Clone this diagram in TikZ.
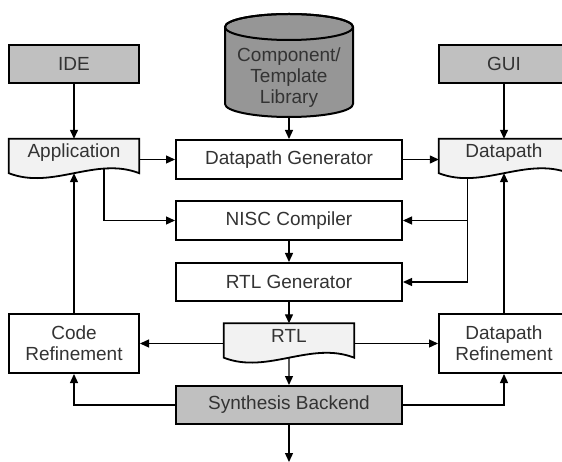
\documentclass[tikz,border=0pt]{standalone}
\usepackage{fontspec}
\setmainfont{Liberation Sans}
\usetikzlibrary{arrows.meta,calc,backgrounds}
\definecolor{txt}{HTML}{333333}
\definecolor{boxgray}{HTML}{C0C0C0}
\definecolor{cylgray}{HTML}{969696}
\definecolor{docfill}{HTML}{F2F2F2}
\newcommand{\docshape}[3]{%
  \path[docstyle] (#1.north west) -- (#1.north east) -- (#1.south east)
    .. controls ($(#1.south east)!1/3!(#1.south west)+(0,-17)$)
       and ($(#1.south east)!2/3!(#1.south west)+(0,17)$) ..
    coordinate[pos=#2] (#3) (#1.south west) -- cycle;}
\begin{document}
\begin{tikzpicture}[x=1pt,y=-1pt,
  every node/.style={font=\fontsize{19}{21}\selectfont, text=txt, align=center, inner sep=0pt},
  box/.style={draw=black, line width=2pt, fill=white, minimum width=226pt, minimum height=39pt},
  graybox/.style={box, fill=boxgray},
  sidebox/.style={box, minimum width=130pt},
  sidegray/.style={sidebox, fill=boxgray},
  docnode/.style={minimum width=130pt, minimum height=34pt, text height=14pt, text depth=10pt},
  docstyle/.style={draw=black, line width=1.8pt, fill=docfill},
  conn/.style={draw=black, line width=1.3pt, -{Triangle[length=9pt,width=8pt]}},
  plain/.style={draw=black, line width=1.3pt}]
\useasboundingbox (0,0) rectangle (562,462);
\clip (0,0) rectangle (562,462);

% nodes
\node[sidegray, minimum height=38pt] (ide) at (74,64) {IDE};
\node[sidegray, minimum height=38pt] (gui) at (504,64) {GUI};
\node[minimum width=128pt, minimum height=78pt] (lib) at (289,78) {Component/\\Template\\Library};
\node[box] (dpg) at (289,159.5) {Datapath Generator};
\node[box] (nisc) at (289,220.5) {NISC Compiler};
\node[box, minimum height=38pt] (rtlg) at (289,282) {RTL Generator};
\node[graybox, minimum height=38pt] (synth) at (289,405) {Synthesis Backend};
\node[sidebox, minimum height=59pt] (code) at (74,343.5) {Code\\Refinement};
\node[sidebox, minimum height=59pt] (dpr) at (504,343.5) {Datapath\\Refinement};
\node[docnode] (app) at (74,156) {Application};
\node[docnode] (dp) at (504,156) {Datapath};
\node[docnode] (rtl) at (289,340.5) {RTL};
\coordinate (out) at (289,462);

\begin{scope}[on background layer]
  % cylinder
  \path[draw=black, line width=2pt, fill=cylgray]
    (225,27) -- (225,104) arc[start angle=180, end angle=360, x radius=64pt, y radius=13pt] -- (353,27)
    arc[start angle=0, end angle=180, x radius=64pt, y radius=13pt] -- cycle;
  \draw[black, line width=2pt] (289,27) ellipse[x radius=64pt, y radius=13pt];
  % documents
  \docshape{app}{0.27}{appw}
  \docshape{dp}{0.78}{dpw}
  \docshape{rtl}{0.5}{rtlw}
\end{scope}

% connectors
\draw[conn] (ide.south) -- (app.north);
\draw[conn] (lib.south) -- (dpg.north);
\draw[conn] (gui.south) -- (dp.north);
\draw[conn] (app.east |- dpg.west) -- (dpg.west);
\draw[conn] (dpg.east) -- (dp.west |- dpg.east);
\draw[conn] (appw) |- (nisc.west);
\draw[conn] (dpw) |- (rtlg.east);
\draw[conn] (dpw |- nisc.east) -- (nisc.east);
\draw[conn] (nisc.south) -- (rtlg.north);
\draw[conn] (rtlg.south) -- (rtl.north);
\draw[conn] (rtl.west |- code.east) -- (code.east);
\draw[conn] (rtl.east |- dpr.west) -- (dpr.west);
\draw[conn] (rtlw) -- (synth.north);
\draw[conn] (synth.west) -| (code.south);
\draw[conn] (synth.east) -| (dpr.south);
\draw[conn] (code.north) -- (app.south);
\draw[conn] (dpr.north) -- (dp.south);
\draw[conn] (synth.south) -- (out);
\end{tikzpicture}
\end{document}
